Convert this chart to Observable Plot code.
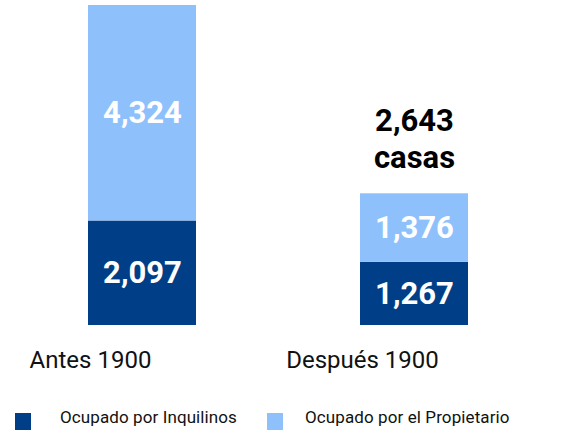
<!DOCTYPE html>
<html>
<head>
<meta charset="utf-8">
<script src="https://cdn.jsdelivr.net/npm/d3@7"></script>
<script src="https://cdn.jsdelivr.net/npm/@observablehq/plot@0.6"></script>
<style>
  body { margin: 0; background: #fff; font-family: Roboto, sans-serif; }
  #legend { position: relative; width: 569px; height: 31px; }
  .sw { position: absolute; width: 16px; height: 17px; top: 13px; }
  .lt { position: absolute; top: 7px; font-size: 17px; color: #111; white-space: nowrap; letter-spacing: 0.1px; }
</style>
</head>
<body>
<div id="chart"></div>
<div id="legend"></div>
<script>
const periods = ["Antes 1900", "Después 1900"];
const types = ["Ocupado por Inquilinos", "Ocupado por el Propietario"];
const inquilinos = [2097, 1267];
const propietario = [4324, 1376];
const totalWord = "casas";
const colors = ["#003f88", "#8ec1fc"];

const fmt = d3.format(",");
const data = periods.flatMap((p, i) => [
  {period: p, type: types[0], value: inquilinos[i]},
  {period: p, type: types[1], value: propietario[i]}
]);
const totals = periods.map((p, i) => ({period: p, total: inquilinos[i] + propietario[i]}));

const chart = Plot.plot({
  width: 569,
  height: 400,
  marginTop: 5,
  marginBottom: 75,
  marginLeft: 0,
  marginRight: 0,
  style: {fontFamily: "Roboto, sans-serif", background: "white"},
  x: {domain: periods, range: [88, 468], paddingInner: 0.603, paddingOuter: 0, axis: null},
  y: {domain: [0, d3.max(totals, d => d.total)], range: [325, 5], axis: null},
  color: {domain: types, range: colors},
  marks: [
    Plot.barY(data, {x: "period", y: "value", fill: "type"}),
    Plot.text(data, Plot.stackY({
      x: "period", y: "value", text: d => fmt(d.value),
      fill: "white", fontSize: 31, fontWeight: "bold"
    })),
    Plot.text([totals[1]], {
      x: "period", y: "total",
      text: d => `${fmt(d.total)}\n${totalWord}`,
      lineAnchor: "bottom", dy: -26, lineHeight: 1.2,
      fontSize: 31, fontWeight: "bold", fill: "#000"
    }),
    Plot.text(periods, {
      x: d => d, y: () => 0, text: d => d,
      dx: -52, dy: 25, lineAnchor: "top",
      fontSize: 24, fill: "#111"
    })
  ]
});
document.getElementById("chart").append(chart);

const legend = document.getElementById("legend");
const swX = [15, 267];
const txX = [60, 305];
types.forEach((t, i) => {
  const s = document.createElement("div");
  s.className = "sw";
  s.style.left = swX[i] + "px";
  s.style.background = colors[i];
  legend.append(s);
  const l = document.createElement("div");
  l.className = "lt";
  l.style.left = txX[i] + "px";
  l.textContent = t;
  legend.append(l);
});
</script>
</body>
</html>
